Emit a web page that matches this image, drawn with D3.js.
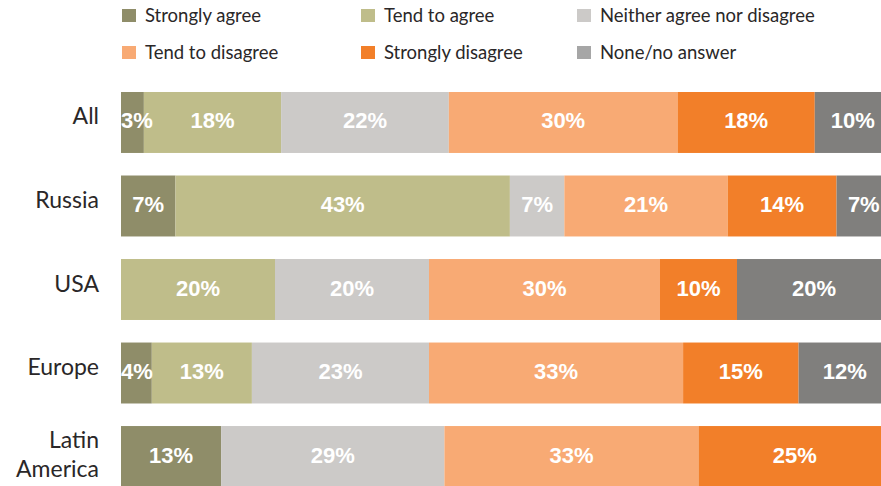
<!DOCTYPE html>
<html>
<head>
<meta charset="utf-8">
<script src="https://cdn.jsdelivr.net/npm/d3@7"></script>
<style>
  html, body { margin: 0; padding: 0; background: #fff; }
  svg { display: block; }
</style>
</head>
<body>
<svg id="chart" width="881" height="486"></svg>
<script>
// Regions shown top to bottom
const regions = ["All", "Russia", "USA", "Europe", "Latin America"];

// Answer options, left to right in each bar
const answers = ["Strongly agree", "Tend to agree", "Neither agree nor disagree",
                 "Tend to disagree", "Strongly disagree", "None/no answer"];

// Share of respondents (%) per answer, one array per answer, ordered like regions
const stronglyAgree    = [3, 7, 0, 4, 13];
const tendToAgree      = [18, 43, 20, 13, 0];
const neither          = [22, 7, 20, 23, 29];
const tendToDisagree   = [30, 21, 30, 33, 33];
const stronglyDisagree = [18, 14, 10, 15, 25];
const noAnswer         = [10, 7, 20, 12, 0];

const seriesValues = [stronglyAgree, tendToAgree, neither, tendToDisagree, stronglyDisagree, noAnswer];

const barColors    = ["#8f8d69", "#bfbd8a", "#cccac8", "#f8aa74", "#f27f29", "#807f7d"];
const legendColors = ["#8f8d69", "#bfbd8a", "#cccac8", "#f8aa74", "#f27f29", "#a6a6a6"];

const svg = d3.select("#chart");
const width = 881, height = 486;

// Each bar spans the full 100% of its row (rounded shares are rescaled to their total)
const x = d3.scaleLinear().domain([0, 1]).range([121, 891]);
const y = d3.scaleBand().domain(regions).range([92, 487]).paddingInner(0.27).paddingOuter(0);

// Build stacked rows
const rows = regions.map((r, i) => {
  const o = { region: r };
  answers.forEach((a, j) => { o[a] = seriesValues[j][i]; });
  return o;
});
const stack = d3.stack().keys(answers).offset(d3.stackOffsetExpand)(rows);

const labelFont = "'Liberation Sans', Arial, sans-serif";
const textFont = "Lato, 'Noto Sans', sans-serif";

const layers = svg.append("g").selectAll("g")
  .data(stack)
  .join("g")
  .attr("fill", (d, i) => barColors[i]);

layers.selectAll("rect")
  .data(d => d.filter(s => s.data[d.key] > 0))
  .join("rect")
  .attr("x", s => x(s[0]))
  .attr("y", s => y(s.data.region))
  .attr("width", s => x(s[1]) - x(s[0]))
  .attr("height", y.bandwidth());

// Value labels inside segments
const valueLabels = svg.append("g")
  .attr("font-family", labelFont)
  .attr("font-weight", "bold")
  .attr("font-size", 22)
  .attr("fill", "#fff")
  .attr("text-anchor", "middle");

stack.forEach(layer => {
  layer.forEach(s => {
    const v = s.data[layer.key];
    if (v <= 0) return;
    const t = valueLabels.append("text")
      .attr("y", y(s.data.region) + y.bandwidth() / 2 + 6)
      .text(v + "%");
    // keep narrow-segment labels from spilling past the bar's left end
    const w = t.node().getComputedTextLength();
    const cx = Math.max((x(s[0]) + x(s[1])) / 2, x(0) + w / 2);
    t.attr("x", cx);
  });
});

// Region labels
const catG = svg.append("g")
  .attr("font-family", textFont)
  .attr("font-size", 23)
  .attr("fill", "#2a2728")
  .attr("text-anchor", "end");

regions.forEach(r => {
  const words = r === "Latin America" ? ["Latin", "America"] : [r];
  const cy = y(r) + y.bandwidth() / 2;
  const t = catG.append("text").attr("x", 99);
  if (words.length === 1) {
    t.attr("y", cy + 2).text(r);
  } else {
    t.append("tspan").attr("x", 99).attr("y", cy - 8.5).text(words[0]);
    t.append("tspan").attr("x", 99).attr("y", cy + 20.5).text(words[1]);
  }
});

// Legend: three columns, two rows
const legendX = [122, 361, 577];
const legendY = [9, 46];
const legend = svg.append("g")
  .attr("font-family", textFont)
  .attr("font-size", 18.5)
  .attr("fill", "#2a2728");

answers.forEach((a, i) => {
  const col = i % 3, row = Math.floor(i / 3);
  const g = legend.append("g").attr("transform", `translate(${legendX[col]},${legendY[row]})`);
  g.append("rect").attr("width", 14).attr("height", 13).attr("fill", legendColors[i]);
  g.append("text").attr("x", 23).attr("y", 12.5).text(a);
});
</script>
</body>
</html>
